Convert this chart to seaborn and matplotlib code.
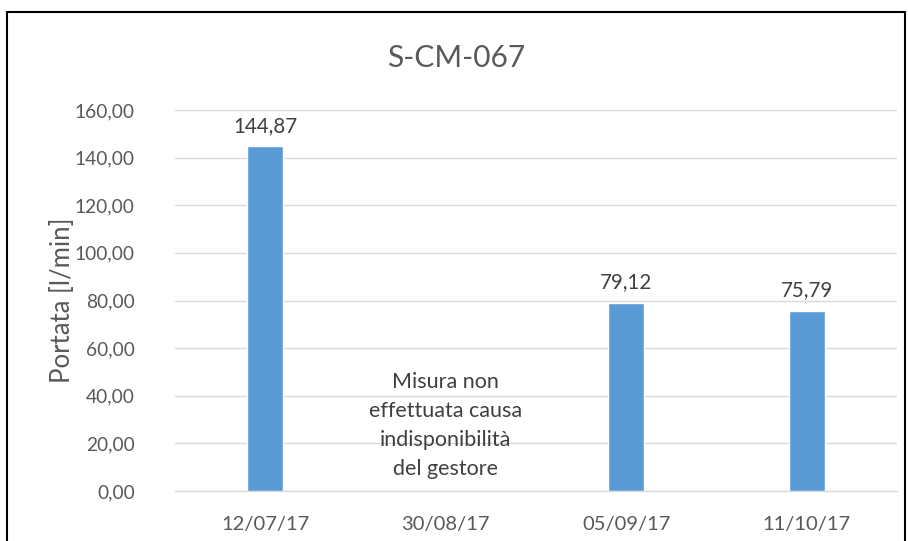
import matplotlib
matplotlib.use("Agg")
import matplotlib.pyplot as plt
import seaborn as sns
import pandas as pd
import numpy as np
from matplotlib.patches import Rectangle

title = "S-CM-067"
dates = ["12/07/17", "30/08/17", "05/09/17", "11/10/17"]
portata = [144.87, np.nan, 79.12, 75.79]
y_ticks = [0, 20, 40, 60, 80, 100, 120, 140, 160]
ylabel = "Portata [l/min]"
note = "Misura non\neffettuata causa\nindisponibilità\ndel gestore"
note_index = 1
note_value = 27.5

sns.set_theme(style="white")
plt.rcParams['font.family'] = ['Lato', 'DejaVu Sans']

TXT = "#595959"
BAR = "#5B9BD5"
GRID = "#D9D9D9"

df = pd.DataFrame({"data": dates, "portata": portata}).dropna()

fig = plt.figure(figsize=(9.08, 5.41), dpi=100)
ax = fig.add_axes([175/908, 1 - 491/541, (897 - 175)/908, (491 - 110)/541])

sns.barplot(data=df, x="data", y="portata", order=dates, color=BAR,
            width=0.2, saturation=1, ax=ax, zorder=3)

ax.set_ylim(0, 160)
ax.set_xlim(-0.5, len(dates) - 0.5)
ax.set_yticks(y_ticks)
ax.set_yticklabels([f"{v:.2f}".replace(".", ",") for v in y_ticks],
                   color=TXT, fontsize=13.8)
ax.set_xticks(range(len(dates)))
ax.set_xticklabels(dates, color=TXT, fontsize=14.5)
ax.tick_params(axis="y", length=0, pad=29)
ax.tick_params(axis="x", length=0, pad=18)
# category boundary ticks
ax.set_xticks(np.arange(-0.5, len(dates) + 0.5, 1), minor=True)
ax.tick_params(axis="x", which="minor", length=6, color=GRID, width=1)
ax.yaxis.grid(True, color=GRID, linewidth=1, zorder=0)
ax.xaxis.grid(False)
for s in ["top", "right", "left"]:
    ax.spines[s].set_visible(False)
ax.spines["bottom"].set_color(GRID)
ax.spines["bottom"].set_linewidth(1)
ax.set_xlabel("")
ax.set_ylabel(ylabel, color=TXT, fontsize=18.5)
ax.yaxis.set_label_coords(-0.139, 0.5)

for i, (d, v) in enumerate(zip(dates, portata)):
    if not np.isnan(v):
        ax.text(i, v + 4.3, f"{v:.2f}".replace(".", ","), ha="center",
                va="bottom", color="#404040", fontsize=14.8)

ax.text(note_index, note_value, note, ha="center", va="center",
        color="#404040", fontsize=15.5, linespacing=1.58, zorder=4)

fig.text(0.5 * (7 + 905) / 908, 1 - 58/541, title, ha="center", va="center",
         color=TXT, fontsize=21.5)

fig.patches.append(Rectangle((7/908, -0.05), (905 - 7)/908, 1 - 12/541 + 0.05,
                             transform=fig.transFigure, fill=False,
                             edgecolor="black", linewidth=1.5))

fig.savefig("out.png", dpi=100)
